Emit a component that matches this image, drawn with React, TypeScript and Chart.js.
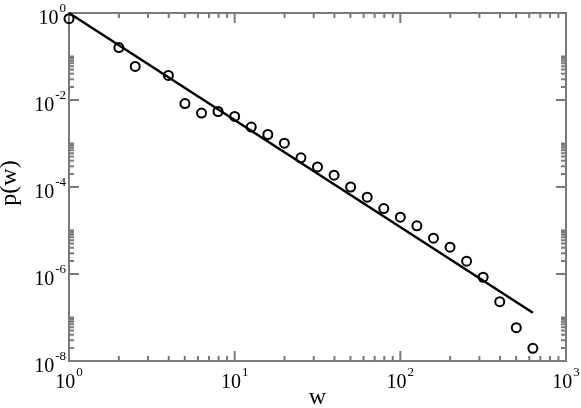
import React, { useEffect, useRef } from "react";
import { Chart, registerables } from "chart.js";

Chart.register(...registerables);

// Data (log-log)
const W_VALUES = [
  1, 2, 2.51, 3.98, 5.01, 6.31, 7.94, 10, 12.59, 15.85, 19.95, 25.12, 31.62,
  39.81, 50.12, 63.1, 79.43, 100, 125.9, 158.5, 199.5, 251.2, 316.2, 398.1,
  501.2, 631,
];
const P_VALUES = [
  0.74, 0.16, 0.059, 0.0367, 0.0083, 0.005, 0.00544, 0.00418, 0.00238, 0.00161,
  0.00102, 4.68e-4, 2.9e-4, 1.87e-4, 1.0e-4, 5.83e-5, 3.19e-5, 2.02e-5,
  1.28e-5, 6.65e-6, 4.13e-6, 1.97e-6, 8.42e-7, 2.31e-7, 5.83e-8, 1.96e-8,
];
const FIT_W = [1, 631];
const FIT_P = [1, 1.29e-7];

const X_MAJOR_EXPONENTS = [0, 1, 2, 3];
const Y_MAJOR_EXPONENTS = [0, -2, -4, -6, -8];
const X_TITLE = "w";
const Y_TITLE = "p(w)";

const FONT_FAMILY = '"Liberation Serif", "Times New Roman", serif';
const AXIS_COLOR = "#7a7a7a";

function drawPower(
  ctx: CanvasRenderingContext2D,
  exp: number,
  anchorX: number,
  baseline: number,
  align: "right" | "center"
) {
  ctx.textAlign = "left";
  ctx.textBaseline = "alphabetic";
  ctx.font = `20px ${FONT_FAMILY}`;
  const base = "10";
  const wBase = ctx.measureText(base).width;
  ctx.font = `13px ${FONT_FAMILY}`;
  const sup = String(exp);
  const wSup = ctx.measureText(sup).width;
  const total = wBase + 1 + wSup;
  const start = align === "right" ? anchorX - total : anchorX - total / 2;
  ctx.font = `20px ${FONT_FAMILY}`;
  ctx.fillText(base, start, baseline);
  ctx.font = `13px ${FONT_FAMILY}`;
  ctx.fillText(sup, start + wBase + 1, baseline - 12);
}

const graceAxes = {
  id: "graceAxes",
  beforeDatasetsDraw(chart: any) {
    const { ctx, chartArea, scales } = chart;
    const { left, right, top, bottom } = chartArea;
    const xs = scales.x;
    const ys = scales.y;
    ctx.save();
    ctx.strokeStyle = AXIS_COLOR;
    ctx.lineWidth = 2;
    ctx.strokeRect(left, top, right - left, bottom - top);

    ctx.beginPath();
    // x ticks
    for (const e of X_MAJOR_EXPONENTS) {
      const px = xs.getPixelForValue(Math.pow(10, e));
      ctx.moveTo(px, bottom);
      ctx.lineTo(px, bottom - 10);
      ctx.moveTo(px, top);
      ctx.lineTo(px, top + 10);
    }
    for (let d = 0; d < 3; d++) {
      for (let k = 2; k <= 9; k++) {
        const px = xs.getPixelForValue(k * Math.pow(10, d));
        ctx.moveTo(px, bottom);
        ctx.lineTo(px, bottom - 5);
        ctx.moveTo(px, top);
        ctx.lineTo(px, top + 5);
      }
    }
    // y ticks
    for (const e of Y_MAJOR_EXPONENTS) {
      const py = ys.getPixelForValue(Math.pow(10, e));
      ctx.moveTo(left, py);
      ctx.lineTo(left + 10, py);
      ctx.moveTo(right, py);
      ctx.lineTo(right - 10, py);
    }
    for (const e of Y_MAJOR_EXPONENTS) {
      if (e === 0) continue;
      for (let k = 2; k <= 10; k++) {
        const py = ys.getPixelForValue(k * Math.pow(10, e));
        ctx.moveTo(left, py);
        ctx.lineTo(left + 5, py);
        ctx.moveTo(right, py);
        ctx.lineTo(right - 5, py);
      }
    }
    ctx.stroke();

    // tick labels
    ctx.fillStyle = "#000";
    for (const e of X_MAJOR_EXPONENTS) {
      const px = xs.getPixelForValue(Math.pow(10, e));
      drawPower(ctx, e, px, bottom + 27, "center");
    }
    for (const e of Y_MAJOR_EXPONENTS) {
      const py = ys.getPixelForValue(Math.pow(10, e));
      drawPower(ctx, e, left - 3, py + 11, "right");
    }

    // titles
    ctx.font = `24px ${FONT_FAMILY}`;
    ctx.textAlign = "center";
    ctx.textBaseline = "alphabetic";
    ctx.fillText(X_TITLE, (left + right) / 2, 404);
    ctx.translate(15.5, 183);
    ctx.rotate(-Math.PI / 2);
    ctx.fillText(Y_TITLE, 0, 0);
    ctx.restore();
  },
};

export default function App() {
  const canvasRef = useRef<HTMLCanvasElement | null>(null);

  useEffect(() => {
    const canvas = canvasRef.current;
    if (!canvas) return;
    const chart = new Chart(canvas, {
      type: "scatter",
      data: {
        datasets: [
          {
            label: "fit",
            type: "line",
            data: FIT_W.map((w, i) => ({ x: w, y: FIT_P[i] })),
            borderColor: "#000",
            borderWidth: 2.5,
            pointRadius: 0,
            fill: false,
            showLine: true,
            clip: false,
          } as any,
          {
            label: "p(w)",
            data: W_VALUES.map((w, i) => ({ x: w, y: P_VALUES[i] })),
            pointStyle: "circle",
            pointRadius: 4.5,
            pointBorderWidth: 2,
            borderColor: "#000",
            backgroundColor: "rgba(0,0,0,0)",
            pointBackgroundColor: "rgba(0,0,0,0)",
            pointBorderColor: "#000",
            clip: false,
          } as any,
        ],
      },
      options: {
        responsive: false,
        animation: false,
        layout: { padding: { left: 69, right: 15, top: 13, bottom: 47 } },
        plugins: {
          legend: { display: false },
          tooltip: { enabled: false },
        },
        scales: {
          x: { type: "logarithmic", min: 1, max: 1000, display: false },
          y: { type: "logarithmic", min: 1e-8, max: 1, display: false },
        },
      },
      plugins: [graceAxes],
    });
    return () => chart.destroy();
  }, []);

  return (
    <div
      style={{
        position: "fixed",
        left: 0,
        top: 0,
        width: 581,
        height: 408,
        background: "#fff",
      }}
    >
      <canvas ref={canvasRef} width={581} height={408} />
    </div>
  );
}
